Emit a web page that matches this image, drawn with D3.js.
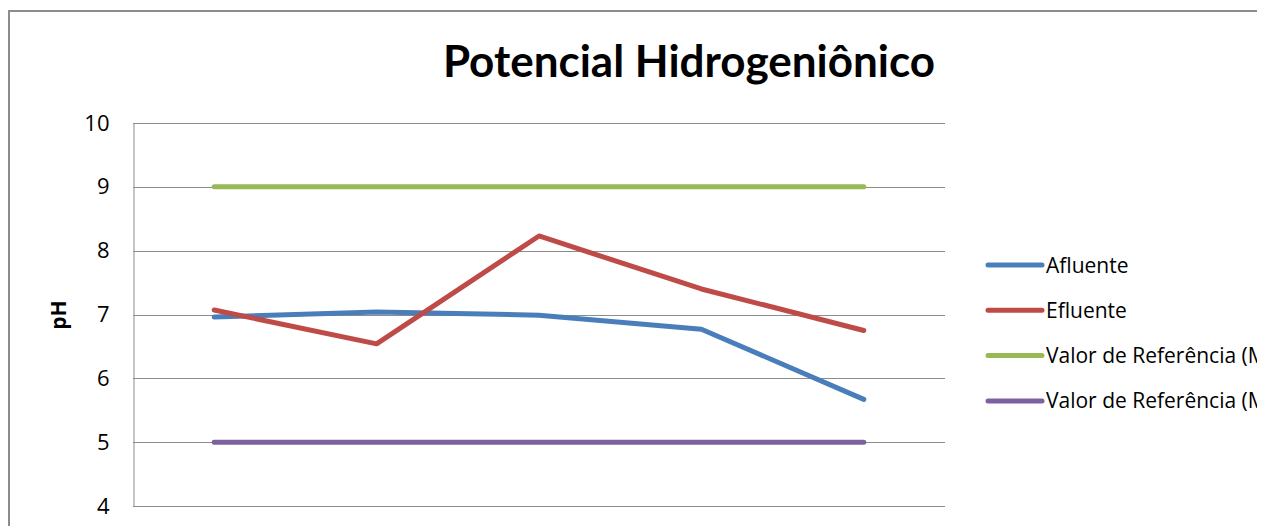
<!DOCTYPE html>
<html>
<head>
<meta charset="utf-8">
<script src="https://cdn.jsdelivr.net/npm/d3@7/dist/d3.min.js"></script>
<style>
  html, body { margin: 0; padding: 0; background: #fff; }
  svg { display: block; }
  text { font-family: "Open Sans", Lato, sans-serif; fill: #000; }
</style>
</head>
<body>
<svg id="chart" width="1272" height="526"></svg>
<script>
const categories = ["1", "2", "3", "4", "5"];
const afluente = [6.96, 7.04, 6.99, 6.77, 5.67];
const efluente = [7.07, 6.54, 8.23, 7.40, 6.75];
const refMax = [9, 9, 9, 9, 9];
const refMin = [5, 5, 5, 5, 5];
const yTicks = [4, 5, 6, 7, 8, 9, 10];
const seriesNames = ["Afluente", "Efluente", "Valor de Referência (Máx.)", "Valor de Referência (Mín.)"];
const seriesColors = ["#4a7ebb", "#be4b48", "#98b954", "#7d60a0"];

const series = [afluente, efluente, refMax, refMin].map((values, i) => ({
  name: seriesNames[i], color: seriesColors[i], values
}));

const svg = d3.select("#chart");
const plot = { left: 133, right: 945, top: 123, bottom: 506 };

// Chart area clip (frame ends at x = 1257)
svg.append("defs").append("clipPath").attr("id", "frameClip")
  .append("rect").attr("x", 0).attr("y", 0).attr("width", 1257).attr("height", 526);

// Outer chart frame (top and left edges visible)
svg.append("path")
  .attr("d", "M9,526 V11 H1257")
  .attr("fill", "none").attr("stroke", "#8c8c8c").attr("stroke-width", 2);

const x = d3.scaleBand().domain(categories).range([plot.left, plot.right]);
const y = d3.scaleLinear().domain([4, 10]).range([plot.bottom, plot.top]);

// Horizontal gridlines
svg.append("g").selectAll("line").data(yTicks).join("line")
  .attr("x1", plot.left).attr("x2", plot.right)
  .attr("y1", d => Math.round(y(d)) + 0.5).attr("y2", d => Math.round(y(d)) + 0.5)
  .attr("stroke", "#8c8c8c").attr("stroke-width", 1);

// Y axis
const yAxis = d3.axisLeft(y).tickValues(yTicks).tickFormat(d3.format("d")).tickSize(0).tickPadding(24);
const gy = svg.append("g").attr("transform", `translate(${plot.left + 0.5},0)`).call(yAxis);
gy.select(".domain").attr("stroke", "#8c8c8c");
gy.selectAll("text").style("font-size", "22px").style("font-family", "'Open Sans', sans-serif").attr("fill", "#000");

// Y axis title
svg.append("text")
  .attr("transform", `translate(66,315) rotate(-90)`)
  .attr("text-anchor", "middle")
  .style("font-size", "21px").style("font-weight", "bold")
  .text("pH");

// Chart title
svg.append("text")
  .attr("x", 689).attr("y", 77)
  .attr("text-anchor", "middle")
  .style("font-family", "Lato, sans-serif")
  .style("font-size", "44px").style("font-weight", "bold")
  .text("Potencial Hidrogeniônico");

// Series lines
const line = d3.line()
  .x((d, i) => x(categories[i]) + x.bandwidth() / 2)
  .y(d => y(d));

svg.append("g").selectAll("path").data(series).join("path")
  .attr("d", d => line(d.values))
  .attr("fill", "none")
  .attr("stroke", d => d.color)
  .attr("stroke-width", 5)
  .attr("stroke-linecap", "round")
  .attr("stroke-linejoin", "round");

// Legend
const legend = svg.append("g").attr("clip-path", "url(#frameClip)")
  .selectAll("g").data(series).join("g")
  .attr("transform", (d, i) => `translate(988,${265 + i * 45.3})`);
legend.append("line")
  .attr("x1", 0).attr("x2", 54)
  .attr("stroke", d => d.color).attr("stroke-width", 5).attr("stroke-linecap", "round");
legend.append("text")
  .attr("x", 58).attr("dy", "0.36em")
  .style("font-size", "21px")
  .text(d => d.name);
</script>
</body>
</html>
